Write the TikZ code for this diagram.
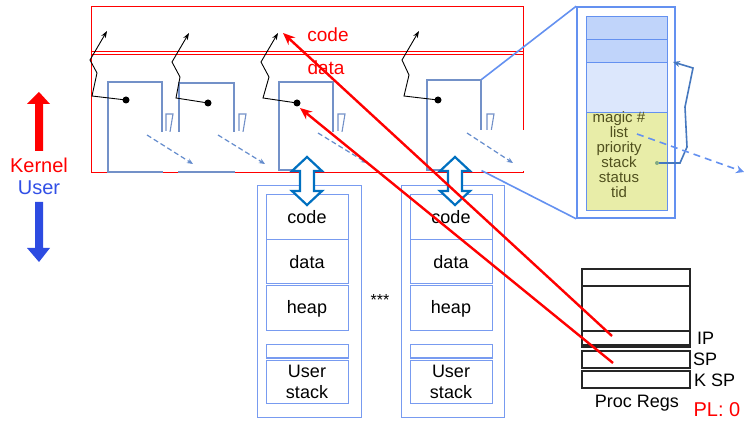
\documentclass[tikz,border=0pt]{standalone}
\usepackage{fontspec}
\setmainfont{Liberation Sans}
\usetikzlibrary{arrows.meta}
\definecolor{kred}{RGB}{255,0,0}
\definecolor{tblue}{RGB}{115,145,200}
\definecolor{dblue}{RGB}{100,140,205}
\definecolor{lblue}{RGB}{100,145,240}
\definecolor{pblue}{RGB}{120,155,240}
\definecolor{darrc}{RGB}{0,112,192}
\definecolor{rowa}{RGB}{192,212,250}
\definecolor{rowb}{RGB}{220,231,252}
\definecolor{rowy}{RGB}{232,237,168}
\definecolor{olive}{RGB}{80,80,30}
\definecolor{sblue}{RGB}{70,120,190}
\definecolor{gdotc}{RGB}{130,170,130}
\definecolor{ublue}{RGB}{50,80,230}
\definecolor{ufill}{RGB}{45,75,225}
\newcommand{\myfs}{\fontsize{18}{21}\selectfont}
\begin{document}
\begin{tikzpicture}[x=1pt,y=-1pt,
  kline/.style={draw=kred, line width=1pt},
  tbox/.style={draw=tblue, line width=1.1pt, inner sep=0pt, minimum width=54pt},
  seven/.style={draw=tblue, line width=1.1pt},
  cover/.style={fill=white, draw=none},
  dasharr/.style={draw=dblue, line width=1.2pt, dash pattern=on 5pt off 3pt, -{Stealth[length=6pt,width=5pt]}},
  tdot/.style={circle, fill=black, inner sep=0pt, minimum size=7pt},
  karr/.style={draw=black, line width=0.9pt, -{Stealth[length=7pt,width=5pt]}},
  rarr/.style={draw=kred, line width=2.4pt, -{Stealth[length=12pt,width=10pt]}},
  conn/.style={draw=lblue, line width=1.6pt},
  drow/.style={draw=lblue, line width=0.9pt, minimum width=81pt, inner sep=0pt},
  pout/.style={draw=pblue, line width=1pt, minimum width=104pt, minimum height=231pt, inner sep=0pt},
  prow/.style={draw=pblue, line width=1pt, minimum width=82pt, inner sep=0pt, font=\myfs, align=center},
  darr/.style={draw=darrc, fill=white, line width=2.2pt, line join=miter},
  reg/.style={draw=black!85, line width=1.1pt, minimum width=108pt, inner sep=0pt},
  lab/.style={font=\myfs, inner sep=0pt}
]
\useasboundingbox (0,0) rectangle (745,422);

% kernel area
\node[kline, minimum width=432pt, minimum height=166pt, inner sep=0pt] (kern) at (307,90) {};
\draw[kred, line width=0.9pt] (kern.west |- 0,51.5) -- (kern.east |- 0,51.5);
\draw[kred, line width=0.9pt] (kern.west |- 0,54.5) -- (kern.east |- 0,54.5);
\node[font=\fontsize{19}{21}\selectfont, text=kred] (kcode) at (328,35) {code};
\node[font=\fontsize{19}{21}\selectfont, text=kred] (kdata) at (326,68) {data};

% thread boxes
\node[tbox, minimum height=90pt] (t1) at (135,127) {};
\node[tbox, minimum width=55pt, minimum height=89pt] (t2) at (206.5,127.5) {};
\node[tbox, minimum height=88pt] (t3) at (306,126) {};
\node[tbox, minimum height=90pt] (t4) at (454,125) {};
\foreach \sx in {166,239,338,487}
  \draw[seven] (\sx,131) -- (\sx,114) -- (\sx+7,114) -- (\sx+4,132);

% white covers
\fill[cover] (140,132) rectangle (200,171);
\fill[cover] (212,132) rectangle (272,171);
\fill[cover] (312,132) rectangle (372,171);
\fill[cover] (462,130) rectangle (527,171.5);

% dashed arrows
\coordinate (ds1) at (147,135); \coordinate (de1) at (193,164);
\coordinate (ds2) at (218,135); \coordinate (de2) at (265,164);
\coordinate (ds3) at (318,133); \coordinate (de3) at (367,163);
\coordinate (ds4) at (467,133); \coordinate (de4) at (513,163);
\foreach \i in {1,2,3,4} \draw[dasharr] (ds\i) -- (de\i);

% black arrows with dots
\node[tdot] (d1) at (126,100) {};
\node[tdot] (d2) at (208,103) {};
\node[tdot] (d3) at (297,103) {};
\node[tdot] (d4) at (438,100) {};
\coordinate (a1) at (107,31);
\coordinate (a2) at (189,33);
\coordinate (a3) at (278,33);
\coordinate (a4) at (419,31);
\draw[karr] (d1.center) -- (92,96) -- (97,73) -- (90,60) -- (a1);
\draw[karr] (d2.center) -- (176,98) -- (180,77) -- (172,62) -- (a2);
\draw[karr] (d3.center) -- (263,98) -- (269,77) -- (261,62) -- (a3);
\draw[karr] (d4.center) -- (404,96) -- (409,75) -- (402,60) -- (a4);

% detail of thread 4
\node[draw=lblue, line width=1.6pt, minimum width=98pt, minimum height=211pt, inner sep=0pt] (det) at (626,112.5) {};
\draw[conn] (t4.north east) -- (det.north west);
\draw[conn] (t4.south east) -- (det.south west);
\node[drow, fill=rowa, minimum height=23pt] (r1) at (626.5,27.5) {};
\node[drow, fill=rowa, minimum height=23pt] (r2) at (626.5,50.5) {};
\node[drow, fill=rowb, minimum height=50pt] (r3) at (626.5,87) {};
\node[drow, fill=rowy, minimum height=98pt] (r4) at (626.5,161) {};
\node[font=\fontsize{15}{15}\selectfont, text=olive, align=center, inner sep=0pt] (tcb) at (619,155)
  {magic \#\\list\\priority\\stack\\status\\tid};
\node[circle, fill=gdotc, inner sep=0pt, minimum size=4pt] (sd) at (657,163) {};
\coordinate (stip) at (673,62);
\draw[draw=sblue, line width=1.6pt, -{Stealth[length=7pt,width=6pt]}] (sd) -- (680,163) -- (687,147) -- (685,107) -- (693,68) -- (stip);
\coordinate (ls) at (637,134);
\coordinate (le) at (744,172);
\draw[draw=lblue, line width=1.6pt, dash pattern=on 7pt off 5pt, -{Stealth[length=8pt,width=8pt]}] (ls) -- (le);

% user processes
\node[pout] (p1) at (309,301.5) {};
\node[prow, minimum height=45pt] (p1c) at (307,217.5) {code};
\node[prow, minimum height=44pt] (p1d) at (307,262) {data};
\node[prow, minimum height=45pt] (p1h) at (307,308.5) {heap};
\node[prow, minimum height=13pt] (p1g) at (307,351.5) {};
\node[prow, minimum height=43pt] (p1s) at (307,381.5) {User\\stack};
\node[pout, minimum width=103pt] (p2) at (452.5,301.5) {};
\node[prow, minimum height=45pt] (p2c) at (451,217.5) {code};
\node[prow, minimum height=44pt] (p2d) at (451,262) {data};
\node[prow, minimum height=45pt] (p2h) at (451,308.5) {heap};
\node[prow, minimum height=13pt] (p2g) at (451,351.5) {};
\node[prow, minimum height=43pt] (p2s) at (451,381.5) {User\\stack};
\node[font=\fontsize{16}{18}\selectfont] (dots) at (380,300) {***};

% double arrows
\foreach \cx in {307,455}
  \draw[darr] (\cx,157) -- ++(15,14) -- ++(-8,0) -- (\cx+7,191) -- ++(8,0) -- (\cx,205)
    -- ++(-15,-14) -- ++(8,0) -- (\cx-7,171) -- ++(-8,0) -- cycle;

% proc regs
\node[reg, minimum height=78pt] (rb) at (636,308) {};
\draw[draw=black!85, line width=1.1pt] (582,286) -- (690,286);
\node[reg, minimum height=14pt] (rip) at (636,338) {};
\node[reg, minimum height=17pt] (rsp) at (636,359.5) {};
\node[reg, minimum height=17pt] (rks) at (636,379.5) {};
\node[lab, anchor=west] (lip) at (697,338) {IP};
\node[lab, anchor=west] (lsp) at (693,359) {SP};
\node[lab, anchor=west] (lks) at (694,380) {K SP};
\node[lab] (preg) at (637,403) {Proc Regs};
\node[lab, font=\fontsize{20}{22}\selectfont, text=kred] (pl) at (717,410) {PL: 0};

% red arrows
\coordinate (ipp) at (612,336);
\coordinate (spp) at (613,363);
\coordinate (rt1) at (283,33);
\coordinate (rt2) at (300,108);
\draw[rarr] (ipp) -- (rt1);
\draw[rarr] (spp) -- (rt2);

% kernel / user
\fill[kred] (39,92) -- (50,104) -- (43,104) -- (43,151) -- (35,151) -- (35,104) -- (27,104) -- cycle;
\fill[ufill] (39,262) -- (50,248) -- (43,248) -- (43,202) -- (35,202) -- (35,248) -- (27,248) -- cycle;
\node[font=\fontsize{20}{22}\selectfont, text=kred, inner sep=0pt] (lk) at (39,165) {Kernel};
\node[font=\fontsize{20}{22}\selectfont, text=ublue, inner sep=0pt] (lu) at (39,188) {User};
\end{tikzpicture}
\end{document}
